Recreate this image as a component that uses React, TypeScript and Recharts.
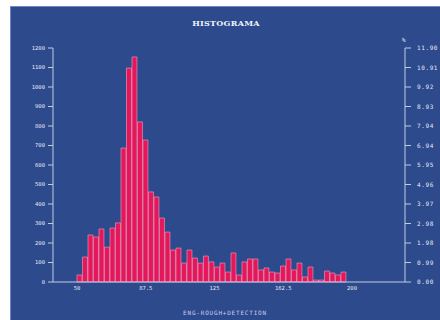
import React from "react";
import { ComposedChart, Bar, Line, XAxis, YAxis } from "recharts";

// histogram bins: 3 units wide starting at 50
const binStart = 50;
const binWidth = 3;
const counts = [
  36, 128, 241, 231, 272, 179, 277, 303, 687, 1097,
  1154, 821, 728, 462, 436, 328, 256, 164, 174, 97,
  164, 123, 97, 133, 103, 77, 97, 51, 149, 36,
  103, 118, 118, 62, 72, 51, 46, 82, 118, 62,
  97, 26, 77, 10, 10, 56, 46, 36, 51, 0,
];

const xTicks = [50, 87.5, 125, 162.5, 200];
const countTicks = [0, 100, 200, 300, 400, 500, 600, 700, 800, 900, 1000, 1100, 1200];
const pctLabels = [
  "0.00", "0.99", "1.98", "2.98", "3.97", "4.96", "5.95",
  "6.94", "7.94", "8.93", "9.92", "10.91", "11.90",
];

const data = counts.map((count, i) => ({
  x: binStart + binWidth * i + binWidth / 2,
  count,
}));

const BG = "#2c4a8c";
const AXIS = "#c4cce4";
const mono = "'DejaVu Sans Mono', monospace";

const App = () => {
  return (
    <div style={{ position: "absolute", left: 0, top: 0, width: 440, height: 320, background: "#ffffff", overflow: "hidden" }}>
      <div
        style={{
          position: "absolute",
          left: 10,
          top: 6,
          width: 430,
          height: 314,
          background: BG,
          borderTop: "1px solid #6a86c4",
          borderLeft: "1px solid #6a86c4",
          boxSizing: "border-box",
        }}
      />
      <div
        style={{
          position: "absolute",
          left: 186,
          top: 18,
          width: 80,
          textAlign: "center",
          color: "#f2f2ff",
          fontFamily: "'DejaVu Serif', serif",
          fontWeight: "bold",
          fontSize: 8,
          letterSpacing: 0.3,
        }}
      >
        HISTOGRAMA
      </div>
      <div style={{ position: "absolute", left: 402, top: 36, color: "#e8e8f8", fontFamily: mono, fontSize: 6 }}>%</div>
      <div
        style={{
          position: "absolute",
          left: 150,
          top: 309,
          width: 150,
          textAlign: "center",
          color: "#c8cdf2",
          fontFamily: mono,
          fontSize: 6,
          letterSpacing: 0.8,
        }}
      >
        ENG-ROUGH+DETECTION
      </div>
      <div style={{ position: "absolute", left: 0, top: 0 }}>
        <ComposedChart
          width={440}
          height={320}
          data={data}
          margin={{ top: 48, right: 5, left: 13, bottom: 18 }}
          barSize={5.5}
        >
          <XAxis
            dataKey="x"
            type="number"
            domain={[50, 200]}
            ticks={xTicks}
            padding={{ left: 24, right: 53 }}
            height={20}
            tickLine={false}
            tickSize={2}
            axisLine={{ stroke: AXIS, strokeWidth: 1 }}
            tick={{ fill: "#e8e8f8", fontSize: 5.5, fontFamily: mono }}
          />
          <YAxis
            yAxisId="count"
            orientation="left"
            domain={[0, 1200]}
            ticks={countTicks}
            width={40}
            tickSize={5}
            tickMargin={3}
            axisLine={{ stroke: AXIS, strokeWidth: 1 }}
            tickLine={{ stroke: AXIS, strokeWidth: 1 }}
            tick={{ fill: "#e8e8f8", fontSize: 5.5, fontFamily: mono }}
          />
          <YAxis
            yAxisId="pct"
            orientation="right"
            domain={[0, 1200]}
            ticks={countTicks}
            tickFormatter={(v: number) => pctLabels[countTicks.indexOf(v)]}
            width={30}
            tickSize={6}
            tickMargin={6}
            axisLine={{ stroke: AXIS, strokeWidth: 1 }}
            tickLine={{ stroke: AXIS, strokeWidth: 1 }}
            tick={{ fill: "#e8e8f8", fontSize: 6, fontFamily: mono, letterSpacing: 0.6, textAnchor: "start" }}
          />
          <Bar
            yAxisId="count"
            dataKey="count"
            fill="#e3175a"
            stroke="#f7a0bf"
            strokeWidth={0.6}
            isAnimationActive={false}
          />
          {/* same counts on the percent scale, kept invisible so the right axis has a series */}
          <Line
            yAxisId="pct"
            dataKey="count"
            stroke="none"
            dot={false}
            activeDot={false}
            isAnimationActive={false}
          />
        </ComposedChart>
      </div>
    </div>
  );
};

export default App;
